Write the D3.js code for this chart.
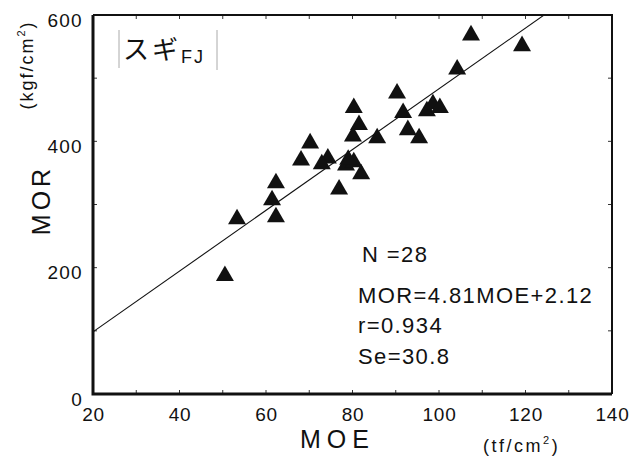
<!DOCTYPE html>
<html lang="ja">
<head>
  <meta charset="UTF-8">
  <title>MOE-MOR スギFJ</title>
  <style media="screen">
    body { margin: 0; background: #fff; }
    svg text { font-family: "Liberation Sans", Arial, sans-serif; fill: #111; }
    .jp { font-family: "Noto Sans CJK JP", sans-serif; }
  </style>
</head>
<body>
  <svg id="chart" width="641" height="462"></svg>

  <script src="https://cdn.jsdelivr.net/npm/d3@7/dist/d3.min.js" charset="utf-8"></script>
  <script type="text/javascript">

    // data (MOE tf/cm2, MOR kgf/cm2)
    var moe = [50.5, 53.3, 62.3, 61.4, 62.3, 68.1, 70.2, 74.3, 72.9, 78.5,
               80.3, 82.0, 76.9, 80.3, 81.5, 80.1, 85.7, 90.3, 91.7, 92.8,
               95.4, 97.2, 98.6, 100.2, 104.2, 107.4, 119.2, 79.0];
    var mor = [187, 277, 334, 307, 280, 370, 397, 373, 364, 362,
               367, 348, 324, 453, 426, 408, 405, 476, 445, 418,
               405, 448, 459, 453, 514, 568, 551, 371];
    var xTicks = [20, 40, 60, 80, 100, 120, 140];
    var yTicks = [0, 200, 400, 600];
    var stats = ["N =28", "MOR=4.81MOE+2.12", "r=0.934", "Se=30.8"];
    var slope = 4.81, intercept = 2.12;

    // plot box (note: "top" is taken by window.top, so pT/pB etc.)
    var svg = d3.select("#chart"),
    pL = 93, pT = 15, pR = 612, pB = 394,
    x = d3.scaleLinear().domain([20, 140]).range([pL, pR]),
    y = d3.scaleLinear().domain([0, 600]).range([pB, pT]);

    svg.append("clipPath").attr("id", "plot")
      .append("rect").attr("x", pL).attr("y", pT)
      .attr("width", pR - pL).attr("height", pB - pT);

    // inner ticks on all four sides
    var minorX = d3.range(20, 141, 10), minorY = d3.range(0, 601, 100);
    var tk = svg.append("g").attr("stroke", "#333").attr("stroke-width", 1);
    minorX.forEach(function (v) {
      tk.append("line").attr("x1", x(v)).attr("x2", x(v)).attr("y1", pB).attr("y2", pB - 4);
      tk.append("line").attr("x1", x(v)).attr("x2", x(v)).attr("y1", pT).attr("y2", pT + 4);
    });
    minorY.forEach(function (v) {
      tk.append("line").attr("y1", y(v)).attr("y2", y(v)).attr("x1", pL).attr("x2", pL + 4);
      tk.append("line").attr("y1", y(v)).attr("y2", y(v)).attr("x1", pR).attr("x2", pR - 4);
    });

    // tick labels via d3 axes (no domain, no tick lines)
    var gx = svg.append("g").attr("transform", "translate(0," + pB + ")")
      .call(d3.axisBottom(x).tickValues(xTicks).tickSize(0).tickPadding(14));
    gx.select(".domain").remove();
    gx.selectAll("text").attr("font-size", 19).attr("letter-spacing", 0.8)
      .style("font-family", "'Liberation Sans', Arial, sans-serif").attr("fill", "#111");

    var gy = svg.append("g").attr("transform", "translate(" + pL + ",0)")
      .call(d3.axisLeft(y).tickValues(yTicks).tickSize(0).tickPadding(10));
    gy.select(".domain").remove();
    gy.selectAll("text").attr("font-size", 19).attr("letter-spacing", 1.3)
      .attr("dy", "11px")
      .style("font-family", "'Liberation Sans', Arial, sans-serif").attr("fill", "#111");

    // regression line
    svg.append("line")
      .attr("clip-path", "url(#plot)")
      .attr("x1", x(20)).attr("y1", y(slope * 20 + intercept))
      .attr("x2", x(140)).attr("y2", y(slope * 140 + intercept))
      .attr("stroke", "#111").attr("stroke-width", 1.1);

    // points
    var tri = d3.symbol(d3.symbolTriangle).size(140);
    svg.append("g").selectAll("path")
      .data(moe)
      .join("path")
      .attr("d", tri)
      .attr("transform", function (d, i) { return "translate(" + x(d) + "," + y(mor[i]) + ")"; })
      .attr("fill", "#111");

    // frame
    svg.append("path")
      .attr("d", "M" + pL + "," + pT + "H" + pR + "V" + pB)
      .attr("fill", "none").attr("stroke", "#111").attr("stroke-width", 2);
    svg.append("path")
      .attr("d", "M" + pL + "," + pT + "V" + pB + "H" + pR)
      .attr("fill", "none").attr("stroke", "#111").attr("stroke-width", 3);

    // species label with side bars
    svg.append("line").attr("x1", 119).attr("x2", 119).attr("y1", 30).attr("y2", 68)
      .attr("stroke", "#aaa").attr("stroke-width", 1);
    svg.append("line").attr("x1", 217).attr("x2", 217).attr("y1", 30).attr("y2", 70)
      .attr("stroke", "#aaa").attr("stroke-width", 1);
    var sp = svg.append("text").attr("x", 123).attr("y", 59);
    sp.append("tspan").attr("class", "jp").attr("font-size", 26).attr("letter-spacing", 3).text("スギ");
    sp.append("tspan").attr("font-size", 18).attr("letter-spacing", 2).attr("dy", 4).text("FJ");

    // statistics
    var statY = [262, 303, 333, 364];
    svg.append("g").selectAll("text")
      .data(stats)
      .join("text")
      .attr("x", function (d, i) { return i == 0 ? 362 : 358; })
      .attr("y", function (d, i) { return statY[i]; })
      .attr("font-size", 22).attr("letter-spacing", 1.4)
      .text(function (d) { return d; });

    // axis titles
    svg.append("text").attr("x", 300).attr("y", 448)
      .attr("font-size", 25).attr("letter-spacing", 6).text("MOE");
    var tx = svg.append("text").attr("x", 483).attr("y", 452)
      .attr("font-size", 18).attr("letter-spacing", 2.5);
    tx.append("tspan").text("(tf/cm");
    tx.append("tspan").attr("font-size", 11).attr("dy", -8).text("2");
    tx.append("tspan").attr("dy", 8).text(")");

    svg.append("text").attr("transform", "translate(50,200) rotate(-90)")
      .attr("text-anchor", "middle").attr("font-size", 25).attr("letter-spacing", 4).text("MOR");
    var ty = svg.append("text").attr("transform", "translate(33,65) rotate(-90)")
      .attr("text-anchor", "middle").attr("font-size", 18).attr("letter-spacing", 2);
    ty.append("tspan").text("(kgf/cm");
    ty.append("tspan").attr("font-size", 11).attr("dy", -8).text("2");
    ty.append("tspan").attr("dy", 8).text(")");
  </script>
</body>
</html>
